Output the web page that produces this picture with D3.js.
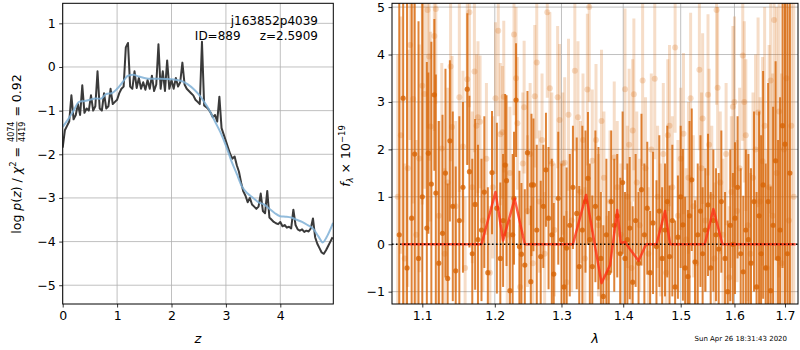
<!DOCTYPE html>
<html><head><meta charset="utf-8">
<script src="https://cdn.jsdelivr.net/npm/d3@7/dist/d3.min.js"></script>
<style>
body{margin:0;background:#fff}
text{font-family:"DejaVu Sans",sans-serif;fill:#000}
</style>
</head><body>
<svg id="c" width="800" height="350" xmlns="http://www.w3.org/2000/svg"></svg>
<script>
// ---------------- DATA ----------------
// Left panel: log p(z)
const zDark = [0,0.04,0.08,0.12,0.16,0.20,0.24,0.28,0.32,0.36,0.40,0.44,0.48,0.52,0.56,0.60,0.64,0.68,0.72,0.76,0.80,0.84,0.88,0.92,0.96,
1.00,1.04,1.08,1.12,1.16,1.20,1.24,1.28,1.32,1.36,1.40,1.44,1.48,1.52,1.56,1.60,1.64,1.68,1.72,1.76,1.80,1.84,1.88,1.92,1.96,
2.00,2.04,2.08,2.12,2.16,2.20,2.24,2.28,2.32,2.36,2.40,2.44,2.48,2.52,2.56,2.60,2.64,2.68,2.72,2.76,2.80,2.84,2.88,2.92,2.96,
3.00,3.04,3.08,3.12,3.16,3.20,3.24,3.28,3.32,3.36,3.40,3.44,3.48,3.52,3.56,3.60,3.64,3.68,3.72,3.76,3.80,3.84,3.88,3.92,3.96,
4.00,4.04,4.08,4.12,4.16,4.20,4.24,4.28,4.32,4.36,4.40,4.44,4.48,4.52,4.56,4.60,4.64,4.68,4.72,4.76,4.80,4.84,4.88,4.92,4.96];
const logpDark = [-1.85,-1.45,-1.35,-1.25,-0.65,-1.2,-1.1,-0.85,-1.1,-0.42,-1.05,-0.95,-1.0,-0.65,-1.0,-0.9,-0.1,-0.95,-1.0,-0.6,-0.95,-0.9,-0.5,-0.85,-0.8,
-0.75,-0.6,-0.5,-0.45,0.45,0.55,-0.45,-0.5,-0.1,-0.48,-0.25,-0.5,-0.35,-0.52,-0.3,-0.5,-0.2,-0.55,-0.4,0.52,-0.5,-0.1,-0.55,0.15,-0.5,
-0.3,-0.5,-0.25,-0.45,-0.35,0.1,-0.4,-0.5,-0.55,-0.6,-0.65,-0.75,-0.8,-0.85,0.58,-0.88,-0.92,-0.97,-1.05,-1.15,-1.1,-1.25,-0.68,-1.4,-1.55,
-1.7,-1.85,-2.0,-2.1,-2.05,-2.25,-2.4,-2.65,-2.85,-2.95,-3.1,-3.0,-3.15,-3.2,-3.25,-3.2,-2.9,-3.3,-3.35,-2.84,-3.45,-3.5,-3.55,-3.58,-3.6,
-3.55,-3.65,-3.62,-3.68,-3.66,-3.7,-3.27,-3.62,-3.72,-3.75,-3.72,-3.78,-3.75,-3.77,-3.7,-3.47,-3.9,-4.05,-4.15,-4.25,-4.28,-4.2,-4.1,-4.0,-3.9];
const zSmooth = [0,0.1,0.2,0.3,0.4,0.5,0.6,0.7,0.8,0.9,1.0,1.1,1.2,1.3,1.4,1.5,1.6,1.8,2.0,2.1,2.2,2.3,2.4,2.5,2.6,2.7,2.8,2.9,3.0,3.1,3.2,3.3,3.4,3.5,3.6,3.7,3.8,3.9,4.0,4.1,4.2,4.3,4.4,4.5,4.6,4.7,4.78,4.85,4.97];
const logpSmooth = [-1.37,-1.2,-1.0,-0.8,-0.78,-0.75,-0.72,-0.73,-0.62,-0.6,-0.5,-0.35,-0.2,-0.18,-0.22,-0.25,-0.27,-0.27,-0.28,-0.3,-0.33,-0.4,-0.5,-0.63,-0.8,-1.0,-1.25,-1.5,-1.8,-2.15,-2.45,-2.75,-2.9,-3.0,-3.1,-3.15,-3.25,-3.35,-3.42,-3.43,-3.45,-3.5,-3.55,-3.62,-3.7,-3.88,-4.02,-3.9,-3.57];
const zTicks = [0,1,2,3,4];
const logpTicks = [-5,-4,-3,-2,-1,0,1];

// Right panel: spectrum (f_lambda x 1e-19)
const lamDark = [1.070,1.075,1.080,1.086,1.090,1.095,1.100,1.106,1.108,1.112,1.116,1.118,1.122,1.127,1.131,1.134,1.137,1.141,1.145,1.150,1.155,1.161,1.164,1.168,1.172,1.176,1.181,1.185,1.190,1.196,
1.203,1.208,1.212,1.215,1.217,1.222,1.226,1.228,1.231,1.236,1.239,1.244,1.248,1.253,1.254,1.257,1.262,1.268,1.272,1.276,1.280,1.285,1.288,1.295,1.300,1.304,1.308,1.313,1.318,1.324,
1.328,1.333,1.338,1.342,1.345,1.349,1.354,1.359,1.363,1.367,1.372,1.376,1.380,1.385,1.390,1.395,1.399,1.403,1.407,1.411,1.416,1.421,1.426,1.431,1.436,1.441,1.446,1.451,1.457,1.462,
1.467,1.472,1.476,1.480,1.485,1.490,1.495,1.500,1.504,1.508,1.513,1.516,1.520,1.526,1.531,1.536,1.540,1.545,1.550,1.555,1.560,1.565,1.570,1.575,1.582,1.587,1.592,1.597,1.601,1.606,
1.612,1.617,1.622,1.627,1.632,1.638,1.643,1.648,1.652,1.656,1.661,1.666,1.671,1.676,1.681,1.686,1.690,1.695,1.700,1.705,1.710];
const fluxDark = [0.2,3.08,-0.5,0.55,1.9,-0.3,1.0,0.34,1.92,1.27,3.15,1.08,-0.4,0.23,1.5,-0.72,2.18,0.8,-0.56,0.5,1.2,3.27,1.53,-0.2,0.84,0.1,0.3,1.1,-0.6,1.51,
0.76,-0.3,0.5,1.67,1.34,-0.98,0.2,0.97,3.04,-0.05,-0.21,-0.44,1.93,-0.79,1.25,1.25,0.3,-0.26,0.8,1.57,0.55,0.2,-0.63,0.97,0.1,-0.9,-0.08,0.4,1.2,0.65,
-0.47,0.3,0.9,1.39,0.1,-0.47,0.8,0.55,-0.3,-1.1,0.2,-0.6,0.9,0.4,0.6,-0.2,1.3,-0.3,0.1,0.34,-0.8,0.5,-0.4,1.15,0.2,0.76,-0.6,0.45,-0.05,0.7,
-0.3,0.3,0.9,-0.26,0.5,-0.9,0.15,1.0,0.41,-0.5,-0.68,0.6,1.36,-0.37,0.2,0.7,-0.2,0.3,0.83,-0.5,0.5,0.2,-0.1,0.9,-0.3,-1.0,0.4,0.0,0.55,1.2,
-0.2,-0.58,0.3,0.1,-0.4,0.9,-0.9,0.6,-0.2,1.25,-0.5,0.9,-0.98,0.4,1.76,-0.3,0.3,2.5,2.11,-0.2,1.5];
const errDark = [6,5,6,5,4,5,4.5,3.5,1.7,3,1.6,2.5,3,2.5,2.2,2,1.7,2,2.2,2.2,1.8,1.6,1.6,2,1.8,2,1.5,1.6,1.8,1.3,
1.8,1.6,1.4,1.5,1.8,1.5,1.7,1.4,1.2,1.6,1.5,1.6,1.3,1.6,1.5,1.4,1.8,1.6,1.3,1.2,1.5,1.6,1.5,1.4,1.6,1.5,1.7,1.5,1.3,1.6,
1.7,2.2,1.5,1.4,1.6,1.5,1.6,1.5,1.4,1.5,1.6,1.3,1.5,1.4,1.3,1.6,1.5,1.4,1.6,1.5,1.6,1.4,1.5,1.6,1.5,1.4,1.3,1.5,1.4,1.6,
1.5,1.4,1.6,1.5,1.6,1.4,1.3,1.5,1.6,1.5,1.4,2.0,1.5,1.3,1.5,1.6,1.4,1.3,1.5,1.6,1.5,1.4,1.6,1.5,1.4,1.5,1.6,1.5,1.6,1.5,
1.8,1.6,1.7,1.8,2,1.9,2,2.2,2.5,2.4,2.2,2.5,2.2,2.5,2.1,2.5,2.8,3,5,6,6];

const lamLight = [1.068,1.072,1.077,1.081,1.084,1.088,1.092,1.096,1.100,1.103,1.107,1.109,1.111,1.116,1.118,1.122,1.126,1.130,1.134,1.138,1.140,1.145,1.150,1.155,1.158,1.161,1.164,1.168,1.171,1.174,
1.176,1.179,1.183,1.188,1.193,1.197,1.201,1.205,1.208,1.211,1.213,1.218,1.222,1.228,1.231,1.233,1.237,1.241,1.243,1.248,1.252,1.256,1.259,1.262,1.266,1.270,1.274,1.278,1.282,1.285,
1.289,1.294,1.297,1.302,1.305,1.308,1.311,1.316,1.321,1.326,1.330,1.334,1.337,1.341,1.344,1.349,1.355,1.359,1.364,1.368,1.373,1.378,1.385,1.390,1.396,1.403,1.407,1.410,1.414,1.416,
1.418,1.423,1.428,1.433,1.438,1.443,1.448,1.454,1.459,1.464,1.469,1.474,1.477,1.480,1.485,1.490,1.495,1.500,1.505,1.510,1.514,1.518,1.523,1.528,1.534,1.538,1.540,1.545,1.550,1.552,
1.557,1.562,1.566,1.568,1.573,1.578,1.584,1.590,1.594,1.597,1.600,1.605,1.610,1.616,1.619,1.622,1.626,1.631,1.636,1.641,1.646,1.650,1.655,1.659,1.664,1.668,1.671,1.675,1.678,1.683,
1.688,1.693,1.698,1.703,1.708,1.713,1.718];
const fluxLight = [1.0,2.3,-0.3,1.6,4.2,3.06,0.2,1.81,3.34,3.17,4.94,3.96,2.48,4.39,4.96,0.6,2.02,-0.2,1.3,3.75,2.47,0.8,3.1,2.06,-0.5,3.48,4.89,1.2,3.64,2.5,
2.68,2.58,0.5,1.8,-0.6,1.2,3.08,4.5,2.32,2.36,3.11,0.2,1.5,4.42,3.5,2.55,-0.9,1.7,2.89,0.7,1.9,-0.4,3.12,3.83,0.9,2.2,-0.2,4.89,3.29,1.7,
0.3,3.1,2.62,1.7,1.72,-0.8,2.73,0.5,3.66,2.68,1.1,2.2,-0.3,3.26,5.0,1.76,2.2,0.4,2.6,1.4,-0.7,0.9,1.83,1.2,0.2,3.27,1.0,2.1,-0.5,2.4,
3.16,1.3,0.4,3.45,1.6,-0.2,2.0,3.49,1.0,0.3,1.9,-0.6,2.3,2.5,1.2,4.15,0.6,1.8,2.33,0.1,1.4,3.08,0.8,-0.4,3.68,1.6,2.65,0.5,3.15,2.1,
1.0,-0.3,4.94,3.3,1.3,0.2,1.9,-0.7,1.1,2.9,3.0,0.7,1.6,3.98,3.0,2.3,0.4,-0.2,1.4,2.0,2.78,0.9,1.75,2.5,-0.5,1.2,3.45,0.6,4.73,1.5,
2.8,-0.4,2.0,3.5,0.5,2.5,1.0];
const errLight = [3,2.5,2,2.5,2,2.2,2,2.4,2.5,2,2.5,2.2,2,2,2,2,1.8,1.8,2,2,1.5,1.8,2,1.6,1.5,1.8,2,1.6,1.7,1.5,
1.6,1.4,1.5,1.6,1.4,1.5,1.6,1.8,1.5,1.4,1.6,1.5,1.4,1.7,1.5,1.4,1.3,1.5,1.4,1.6,1.5,1.4,1.5,1.6,1.5,1.4,1.3,1.8,1.6,1.5,
1.4,1.5,1.6,1.5,1.8,1.5,1.6,1.5,1.7,1.6,1.5,1.4,1.5,1.6,2,1.5,1.6,1.5,1.5,1.4,1.3,1.5,1.6,1.4,1.5,1.7,1.5,1.6,1.4,1.5,
1.6,1.5,1.4,1.8,1.5,1.4,1.6,1.7,1.5,1.4,1.5,1.5,1.6,1.7,1.5,1.8,1.6,1.5,1.7,1.5,1.6,1.8,1.5,1.4,1.7,1.6,1.8,1.5,1.7,1.6,
1.5,1.6,2,1.7,1.5,1.6,1.5,1.5,1.6,1.7,1.8,1.5,1.7,1.8,1.7,1.6,1.6,1.7,1.8,2,2,2.2,2.2,2.5,2.5,3,2.8,3,3,3.5,
3.5,4,4,4.5,4.5,5,5];

const lamModel = [1.073,1.181,1.201,1.212,1.229,1.244,1.318,1.339,1.364,1.378,1.390,1.396,1.403,1.410,1.426,1.439,1.457,1.472,1.481,1.544,1.560,1.577,1.722];
const fluxModel = [0,0,1.1,0.08,0.96,0,0,1.04,-0.82,-0.44,0.72,0.02,0.05,-0.08,-0.35,0,0,0.70,0,0,0.74,0,0];
const lamTicks = [1.1,1.2,1.3,1.4,1.5,1.6,1.7];
const fluxTicks = [-1,0,1,2,3,4,5];

const objName = "j163852p4039";
const objInfo = "ID=889     z=2.5909";
const stamp = "Sun Apr 26 18:31:43 2020";

// ---------------- DRAW ----------------
const svg = d3.select("#c");
const fmt = d => (d < 0 ? "\u2212" + Math.abs(d) : String(d));
const GRID = "#b0b0b0";

function panel(x, y, xt, yt, id) {
  const [x0, x1] = x.range(), [y0, y1] = y.range();
  const g = svg.append("g");
  g.selectAll(null).data(xt).join("line").attr("x1", d => x(d)).attr("x2", d => x(d))
    .attr("y1", y0).attr("y2", y1).attr("stroke", GRID).attr("stroke-width", 0.8);
  g.selectAll(null).data(yt).join("line").attr("y1", d => y(d)).attr("y2", d => y(d))
    .attr("x1", x0).attr("x2", x1).attr("stroke", GRID).attr("stroke-width", 0.8);
  svg.append("clipPath").attr("id", id).append("rect")
    .attr("x", x0).attr("y", y1).attr("width", x1 - x0).attr("height", y0 - y1);
  return svg.append("g").attr("clip-path", `url(#${id})`);
}
function frameAxes(x, y, xt, yt, xfmt) {
  const [x0, x1] = x.range(), [y0, y1] = y.range();
  const ax = svg.append("g").attr("transform", `translate(0,${y0})`)
    .call(d3.axisBottom(x).tickValues(xt).tickFormat(xfmt).tickSize(3.5).tickPadding(3.5).tickSizeOuter(0));
  const ay = svg.append("g").attr("transform", `translate(${x0},0)`)
    .call(d3.axisLeft(y).tickValues(yt).tickFormat(fmt).tickSize(3.5).tickPadding(3.5).tickSizeOuter(0));
  [ax, ay].forEach(a => {
    a.select(".domain").remove();
    a.selectAll(".tick line").attr("stroke", "#000").attr("stroke-width", 0.8);
    a.selectAll(".tick text").style("font-family", "DejaVu Sans").style("font-size", "12.5px").attr("fill", "#000");
  });
  svg.append("rect").attr("x", x0).attr("y", y1).attr("width", x1 - x0).attr("height", y0 - y1)
    .attr("fill", "none").attr("stroke", "#000").attr("stroke-width", 1);
}

// Left panel
const xL = d3.scaleLinear().domain([0, 4.974]).range([62.7, 333.3]);
const yL = d3.scaleLinear().domain([-5.43, 1.459]).range([304, 3.3]);
const gL = panel(xL, yL, zTicks, logpTicks, "clipL");
gL.append("path").datum(d3.zip(zDark, logpDark)).attr("d", d3.line().x(d => xL(d[0])).y(d => yL(d[1])))
  .attr("fill", "none").attr("stroke", "#3a3a3a").attr("stroke-width", 2).attr("stroke-linejoin", "round");
gL.append("path").datum(d3.zip(zSmooth, logpSmooth)).attr("d", d3.line().curve(d3.curveMonotoneX).x(d => xL(d[0])).y(d => yL(d[1])))
  .attr("fill", "none").attr("stroke", "#7fb0d6").attr("stroke-width", 2).attr("stroke-opacity", 0.85);
frameAxes(xL, yL, zTicks, logpTicks, d => String(d));

svg.append("text").attr("x", 318).attr("y", 25).attr("text-anchor", "end")
  .style("font-size", "12px").text(objName);
svg.append("text").attr("x", 318).attr("y", 40).attr("text-anchor", "end")
  .style("font-size", "12px").style("white-space", "pre").text(objInfo);

// Right panel
const xR = d3.scaleLog().domain([1.0607, 1.7268]).range([392, 798]);
const yR = d3.scaleLinear().domain([-1.26, 5.08]).range([304, 3.3]);
const gR = panel(xR, yR, lamTicks, fluxTicks, "clipR");
const BASE = "rgb(215,100,5)";
const light = d3.zip(lamLight, fluxLight, errLight);
gR.selectAll(null).data(light).join("line")
  .attr("x1", d => xR(d[0])).attr("x2", d => xR(d[0]))
  .attr("y1", d => yR(d[1] - d[2])).attr("y2", d => yR(d[1] + d[2]))
  .attr("stroke", BASE).attr("stroke-opacity", 0.22).attr("stroke-width", 3);
gR.selectAll(null).data(light).join("circle")
  .attr("cx", d => xR(d[0])).attr("cy", d => yR(d[1])).attr("r", 3)
  .attr("fill", BASE).attr("fill-opacity", 0.22);
const dark = d3.zip(lamDark, fluxDark, errDark);
gR.selectAll(null).data(dark).join("line")
  .attr("x1", d => xR(d[0])).attr("x2", d => xR(d[0]))
  .attr("y1", d => yR(d[1] - d[2])).attr("y2", d => yR(d[1] + d[2]))
  .attr("stroke", BASE).attr("stroke-opacity", 0.8).attr("stroke-width", 2);
gR.selectAll(null).data(dark).join("circle")
  .attr("cx", d => xR(d[0])).attr("cy", d => yR(d[1])).attr("r", 2.6)
  .attr("fill", BASE).attr("fill-opacity", 0.8);
gR.append("path").datum(d3.zip(lamModel, fluxModel))
  .attr("d", d3.line().x(d => xR(d[0])).y(d => yR(d[1])))
  .attr("fill", "none").attr("stroke", "#ff2a10").attr("stroke-opacity", 0.75).attr("stroke-width", 2.5)
  .attr("stroke-linejoin", "round");
gR.append("line").attr("x1", 392).attr("x2", 798).attr("y1", yR(0)).attr("y2", yR(0))
  .attr("stroke", "#000").attr("stroke-width", 1.5).attr("stroke-dasharray", "1.5,2.5");
frameAxes(xR, yR, lamTicks, fluxTicks, d => d.toFixed(1));

// axis labels
svg.append("text").attr("x", 198).attr("y", 343).attr("text-anchor", "middle")
  .style("font-size", "13px").style("font-style", "italic").text("z");
svg.append("text").attr("x", 595).attr("y", 343).attr("text-anchor", "middle")
  .style("font-size", "13px").style("font-style", "italic").text("λ");
svg.append("text").attr("x", 787).attr("y", 341).attr("text-anchor", "end")
  .style("font-size", "7px").attr("fill", "#222").text(stamp);

// rotated label builder
function rotLabel(cx, baseX, pieces) {
  const g = svg.append("g");
  let x = 0;
  const nodes = [];
  pieces.forEach(p => {
    if (p.frac) {
      const t1 = g.append("text").attr("y", -7).style("font-size", "8px").text(p.frac[0]);
      const t2 = g.append("text").attr("y", 4).style("font-size", "8px").text(p.frac[1]);
      const w1 = t1.node().getComputedTextLength(), w2 = t2.node().getComputedTextLength();
      const w = Math.max(w1, w2);
      nodes.push({n: t1, x: x + 1 + (w - w1) / 2});
      nodes.push({n: t2, x: x + 1 + (w - w2) / 2});
      const ln = g.append("line").attr("y1", -4.2).attr("y2", -4.2).attr("stroke", "#000").attr("stroke-width", 0.7);
      nodes.push({n: ln, x: x + 1, w: w, line: true});
      x += w + 2;
    } else {
      const t = g.append("text").attr("y", p.dy || 0).style("font-size", (p.size || 12.5) + "px")
        .style("font-style", p.it ? "italic" : "normal").style("white-space", "pre").text(p.t);
      nodes.push({n: t, x: x});
      x += t.node().getComputedTextLength();
    }
  });
  const off = -x / 2;
  nodes.forEach(o => {
    if (o.line) o.n.attr("x1", o.x + off).attr("x2", o.x + off + o.w);
    else o.n.attr("x", o.x + off);
  });
  g.attr("transform", `translate(${baseX},${cx}) rotate(-90)`);
}
rotLabel(154, 21, [
  {t: "log "}, {t: "p", it: true}, {t: "("}, {t: "z", it: true}, {t: ") / "}, {t: "χ", it: true},
  {t: "2", size: 8.5, dy: -5}, {t: " = "}, {frac: ["4074", "4419"]}, {t: " = 0.92"}
]);
rotLabel(156, 350, [
  {t: "f", it: true}, {t: "λ", it: true, size: 8.5, dy: 3}, {t: " × 10"}, {t: "−19", size: 8.5, dy: -5}
]);
</script>
</body></html>
